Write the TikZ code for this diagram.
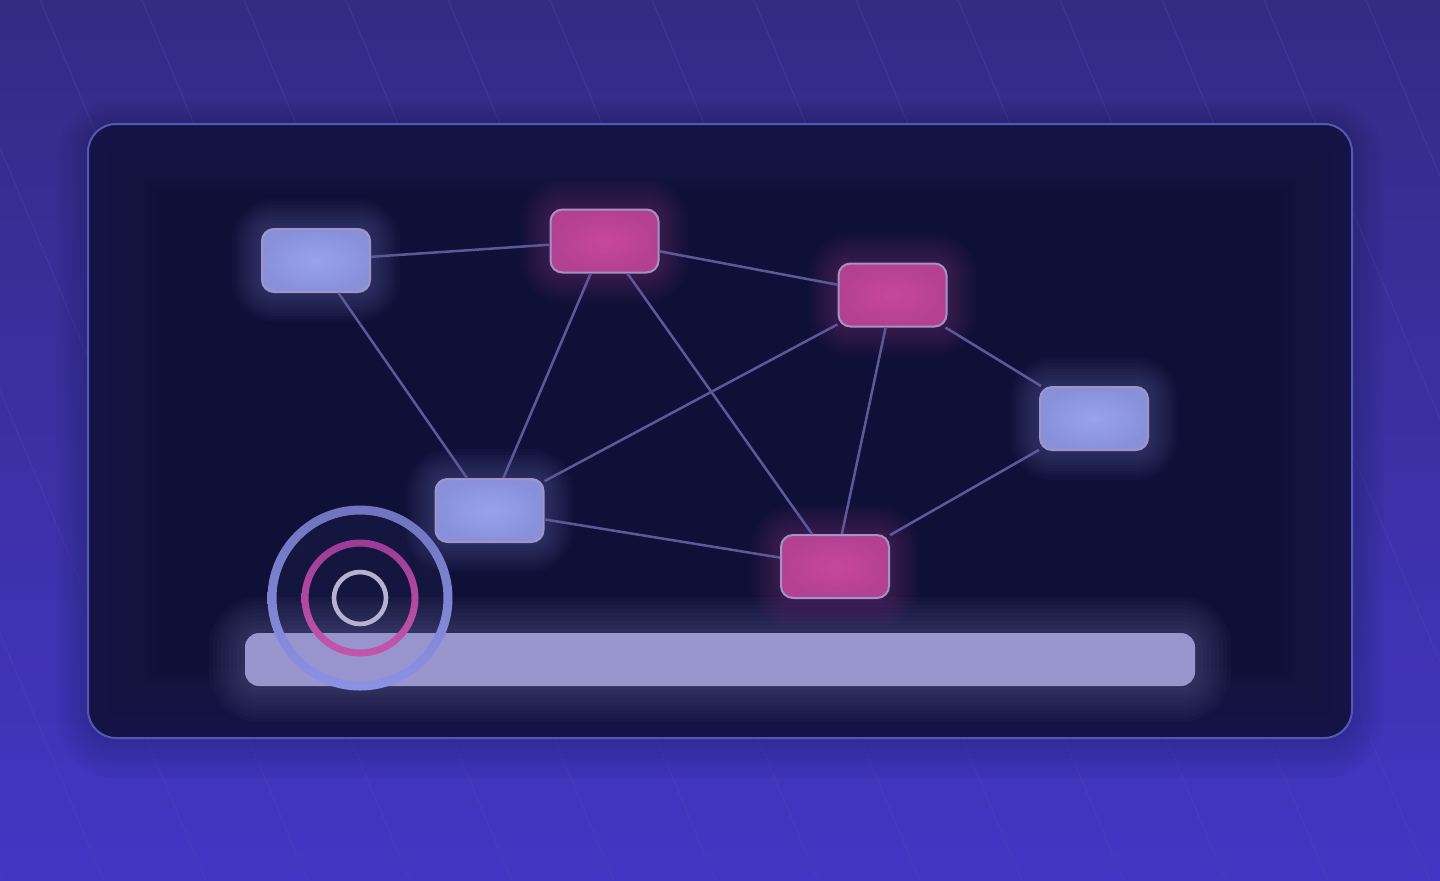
\documentclass[tikz,border=0pt]{standalone}
\usetikzlibrary{calc}
\definecolor{bgtop}{HTML}{342B84}
\definecolor{bgbot}{HTML}{4236C4}
\definecolor{stripe}{HTML}{5048B0}
\definecolor{panelbg}{HTML}{0F1038}
\definecolor{panelglow}{HTML}{2A2A68}
\definecolor{panelborder}{HTML}{5558B0}
\definecolor{edgecol}{HTML}{5D5898}
\definecolor{blueIn}{HTML}{97A3EF}
\definecolor{blueOut}{HTML}{8890DA}
\definecolor{pinkIn}{HTML}{C8479D}
\definecolor{pinkOut}{HTML}{B34091}
\definecolor{nodeborder}{HTML}{A294C6}
\definecolor{blueglow}{HTML}{8C96E8}
\definecolor{pinkglow}{HTML}{C0409A}
\definecolor{barcol}{HTML}{9995CD}
\definecolor{ringAtop}{HTML}{7074BE}
\definecolor{ringAbot}{HTML}{8C92E4}
\definecolor{ringBtop}{HTML}{9C3C94}
\definecolor{ringBbot}{HTML}{C455AD}
\definecolor{ringC}{HTML}{B8B2D2}
\newcommand\nodeglow[3]{%
  \foreach \k in {1,...,10}{%
    \pgfmathsetmacro\rr{6+\k*1.5}%
    \fill[#3,opacity=0.028,rounded corners=\rr pt]
      ({#1-54-\k*3},{#2-31.5-\k*3}) rectangle ({#1+54+\k*3},{#2+31.5+\k*3});}}
\tikzset{
  gnode/.style={rounded corners=6pt, minimum width=54pt, minimum height=31.5pt,
    inner sep=0pt, draw=nodeborder, line width=1pt},
  bluebox/.style={gnode, inner color=blueIn, outer color=blueOut},
  pinkbox/.style={gnode, inner color=pinkIn, outer color=pinkOut},
  link/.style={draw=edgecol, line width=1.25pt},
}
\begin{document}
\begin{tikzpicture}[x=0.5pt,y=-0.5pt]
\useasboundingbox (0,0) rectangle (1440,880);
\shade[top color=bgtop, bottom color=bgbot] (0,0) rectangle (1440,880);
% stripes
\begin{scope}
\clip (0,0) rectangle (1440,880);
\foreach \i in {-5,...,14}
  \draw[stripe, opacity=0.35, line width=0.6pt] ({40+102*\i},0) -- ({40+102*\i+0.42*880},880);
\end{scope}
% panel outer shadow
\foreach \k in {1,...,8}{
  \pgfmathsetmacro\rr{14+\k*2}
  \fill[black, opacity=0.018, rounded corners=\rr pt]
    ({88-\k*4},{124-\k*3}) rectangle ({1352+\k*4},{738+\k*5});}
% panel
\begin{scope}
\clip[rounded corners=14pt] (88,124) rectangle (1352,738);
\fill[panelbg] (88,124) rectangle (1352,738);
\foreach \w in {5,10,...,70}
  \draw[panelglow, opacity=0.045, line width=\w pt, rounded corners=14pt, line join=round] (88,124) rectangle (1352,738);
\end{scope}
\draw[panelborder, line width=1pt, rounded corners=14pt] (88,124) rectangle (1352,738);
% bar glow and bar
\foreach \k in {1,...,9}{
  \pgfmathsetmacro\rr{7+\k*2}
  \fill[barcol, opacity=0.03, rounded corners=\rr pt]
    ({245-\k*4},{633-\k*4}) rectangle ({1195+\k*4},{686+\k*4});}
\fill[barcol, rounded corners=7pt] (245,633) rectangle (1195,686);
% node glows
\nodeglow{316}{260.5}{blueglow}
\nodeglow{604.5}{241}{pinkglow}
\nodeglow{892.5}{295}{pinkglow}
\nodeglow{1094}{418.5}{blueglow}
\nodeglow{489.5}{510.5}{blueglow}
\nodeglow{835}{566.5}{pinkglow}
% nodes
\node[bluebox] (a) at (316,260.5) {};
\node[pinkbox] (b) at (604.5,241) {};
\node[pinkbox] (c) at (892.5,295) {};
\node[bluebox] (d) at (1094,418.5) {};
\node[bluebox] (e) at (489.5,510.5) {};
\node[pinkbox] (f) at (835,566.5) {};
% links
\draw[link] (a) -- (b);
\draw[link] (b) -- (c);
\draw[link] (c) -- (d);
\draw[link] (a) -- (e);
\draw[link] (b) -- (e);
\draw[link] (b) -- (f);
\draw[link] (c) -- (e);
\draw[link] (c) -- (f);
\draw[link] (d) -- (f);
\draw[link] (e) -- (f);
% rings
\coordinate (rc) at (360,598);
\fill[blueglow, opacity=0.05] (rc) circle (44pt);
\shade[top color=ringAtop, bottom color=ringAbot, even odd rule]
  (rc) circle (46.25pt) (rc) circle (41.75pt);
\shade[top color=ringBtop, bottom color=ringBbot, even odd rule]
  (rc) circle (29.25pt) (rc) circle (25.75pt);
\draw[ringC, line width=2.3pt] (rc) circle (13pt);
\end{tikzpicture}
\end{document}
